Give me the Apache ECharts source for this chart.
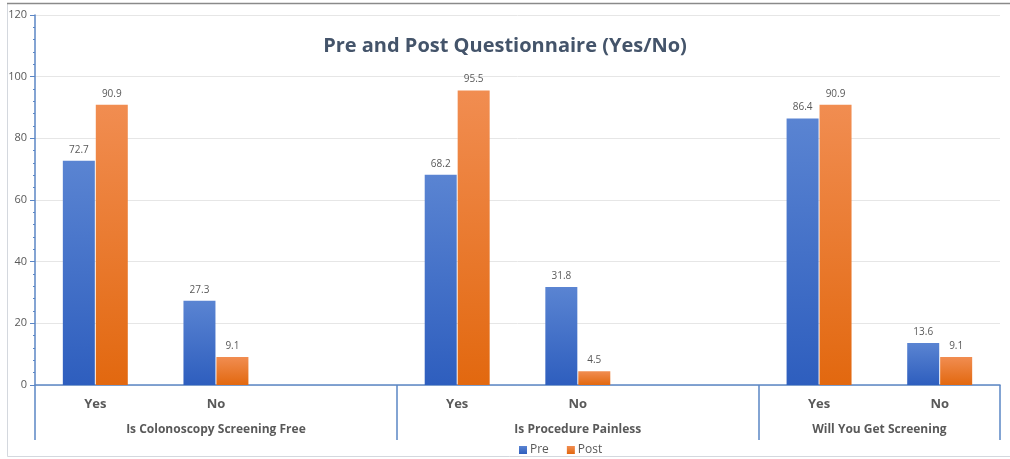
<!DOCTYPE html>
<html>
<head>
<meta charset="utf-8">
<script src="https://cdn.jsdelivr.net/npm/echarts@6/dist/echarts.min.js"></script>
<style>
html,body{margin:0;padding:0;background:#fff;}
#chart{width:1010px;height:459px;}
</style>
</head>
<body>
<div id="chart"></div>
<script>
// ---- data ----
var categories = ['Yes', 'No', '', 'Yes', 'No', '', 'Yes', 'No'];
var groups = ['Is Colonoscopy Screening Free', 'Is Procedure Painless', 'Will You Get Screening'];
var groupBoundaries = [0, 3, 6, 8];
var groupCenters = [1.5, 4.5, 7];
var preValues = [72.7, 27.3, null, 68.2, 31.8, null, 86.4, 13.6];
var postValues = [90.9, 9.1, null, 95.5, 4.5, null, 90.9, 9.1];
var seriesNames = ['Pre', 'Post'];
var yTicks = [0, 20, 40, 60, 80, 100, 120];

var axisBlue = '#5B86C5';
var labelGray = '#595959';
var font = '"Open Sans", "Noto Sans", sans-serif';

function grad(top, bottom) {
  return new echarts.graphic.LinearGradient(0, 0, 0, 1, [
    {offset: 0, color: top}, {offset: 1, color: bottom}
  ]);
}

var chart = echarts.init(document.getElementById('chart'), null, {renderer: 'canvas'});
chart.setOption({
  animation: false,
  backgroundColor: '#fff',
  title: {
    text: 'Pre and Post Questionnaire (Yes/No)',
    left: 'center',
    top: 31,
    textStyle: {fontFamily: font, fontSize: 20, fontWeight: 'bold', color: '#44546A'}
  },
  legend: {
    data: seriesNames,
    left: 514,
    top: 439,
    itemWidth: 8,
    itemHeight: 8,
    itemGap: 18,
    icon: 'rect',
    textStyle: {fontFamily: font, fontSize: 12, color: labelGray, padding: [0, 0, 0, -2]}
  },
  grid: {left: 35, right: 10, top: 15, bottom: 74, containLabel: false},
  xAxis: [
    {
      type: 'category',
      data: categories,
      boundaryGap: true,
      axisLine: {show: true, lineStyle: {color: axisBlue, width: 1.5}},
      axisTick: {show: false},
      axisLabel: {fontFamily: font, fontSize: 13, fontWeight: 'bold', color: labelGray, margin: 13},
      splitLine: {show: false}
    },
    {
      type: 'value',
      position: 'bottom',
      min: 0,
      max: 8,
      axisLine: {show: false},
      splitLine: {show: false},
      axisTick: {show: true, customValues: groupBoundaries, length: 55, lineStyle: {color: axisBlue, width: 1.5}},
      axisLabel: {
        show: true,
        customValues: groupCenters,
        margin: 39,
        fontFamily: font, fontSize: 12, fontWeight: 'bold', color: labelGray,
        formatter: function (v) { return groups[groupCenters.indexOf(v)]; }
      }
    }
  ],
  yAxis: {
    type: 'value',
    min: 0,
    max: 120,
    interval: 20,
    axisLine: {show: true, lineStyle: {color: axisBlue, width: 1.5}},
    axisTick: {show: true, length: 5, lineStyle: {color: axisBlue}},
    minorTick: {show: true, splitNumber: 5, length: 2, lineStyle: {color: axisBlue}},
    axisLabel: {fontFamily: font, fontSize: 11, color: labelGray, margin: 8,
      customValues: yTicks},
    splitLine: {show: true, lineStyle: {color: '#E6E6E6', width: 1}}
  },
  series: [
    {
      name: seriesNames[0],
      type: 'bar',
      xAxisIndex: 0,
      data: preValues,
      barWidth: 32,
      barGap: '3%',
      itemStyle: {color: grad('#5A84D2', '#2E5EBE')},
      label: {show: true, position: 'top', distance: 6, fontFamily: font, fontSize: 10, color: labelGray}
    },
    {
      name: seriesNames[1],
      type: 'bar',
      xAxisIndex: 0,
      data: postValues,
      barWidth: 32,
      barGap: '3%',
      itemStyle: {color: grad('#F18D51', '#E2680F')},
      label: {show: true, position: 'top', distance: 6, fontFamily: font, fontSize: 10, color: labelGray}
    }
  ],
  graphic: [
    {type: 'rect', silent: true, shape: {x: 7.5, y: 3.5, width: 1010, height: 453},
      style: {fill: 'none', stroke: '#D4D8DE', lineWidth: 1}},
    {type: 'line', silent: true, shape: {x1: 7, y1: 3.5, x2: 1010, y2: 3.5},
      style: {stroke: '#8A8A8A', lineWidth: 1.5}}
  ]
});
</script>
</body>
</html>
